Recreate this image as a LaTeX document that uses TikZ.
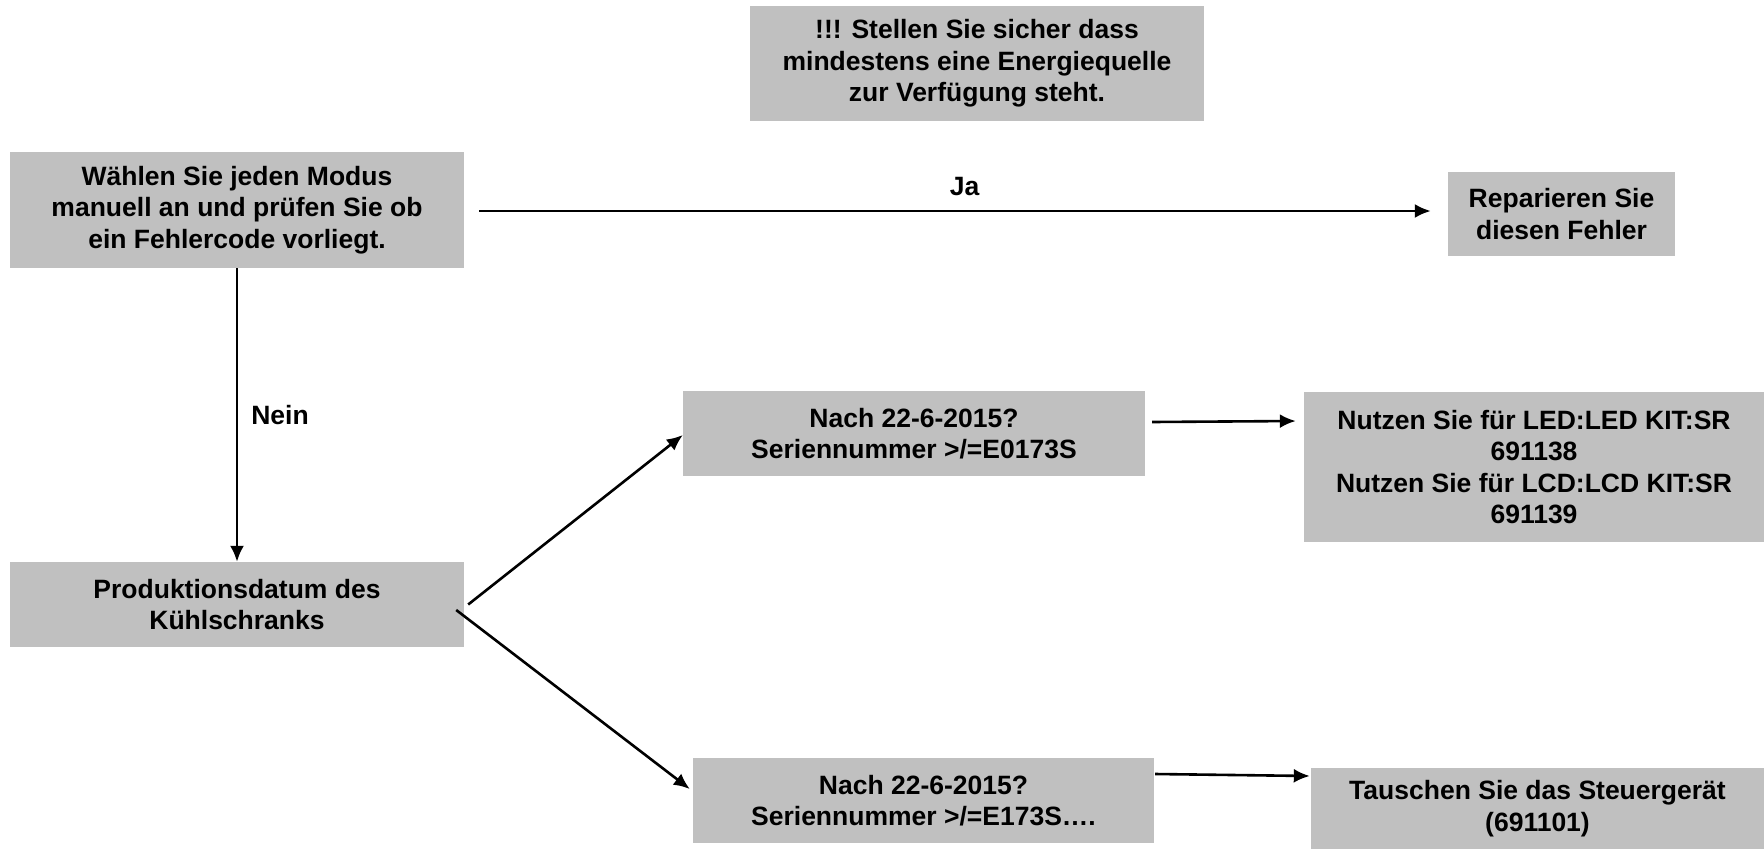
\documentclass[tikz,border=0pt]{standalone}
\usepackage{fontspec}
\setmainfont{Liberation Sans}
\usetikzlibrary{calc, arrows.meta, positioning}
\definecolor{boxgray}{RGB}{192,192,192}

\begin{document}
\begin{tikzpicture}
    [
        x=1pt, y=-1pt, auto, >={Latex[length=16pt,width=14pt]},
        box/.style={fill=boxgray, align=center, inner sep=0pt, font=\bfseries\fontsize{26.5}{31.5}\selectfont},
        lbl/.style={inner sep=0pt, font=\bfseries\fontsize{26.5}{31.5}\selectfont}
    ]
    \tikzstyle{line} = [draw, ->, line width=2.6pt]

    \useasboundingbox (0,0) rectangle (1764,849);

    % Hinweis
    \node[box, minimum width=454pt, minimum height=115pt] (warn) at (977,63.5)
        {!!! Stellen Sie sicher dass\\mindestens eine Energiequelle\\zur Verfügung steht.};

    % Fehlercode
    \node[box, minimum width=454pt, minimum height=116pt] (check) at (237,210)
        {Wählen Sie jeden Modus\\manuell an und prüfen Sie ob\\ein Fehlercode vorliegt.};
    \node[box, minimum width=227pt, minimum height=84pt] (repair) at (1561.5,214)
        {Reparieren Sie\\diesen Fehler};

    \path[line] ($(check.east)+(15,1)$) -- ($(repair.west)+(-17,-3)$)
        node[lbl, pos=0.51, above=14pt] {Ja};

    % Produktionsdatum
    \node[box, minimum width=454pt, minimum height=85pt] (proddate) at (237,604.5)
        {Produktionsdatum des\\Kühlschranks};

    \path[line] (check.south) -- (proddate.north)
        node[lbl, midway, right=13pt] {Nein};

    % Seriennummer
    \node[box, minimum width=462pt, minimum height=85pt] (after1) at (914,433.5)
        {Nach 22-6-2015?\\Seriennummer >/=E0173S};
    \node[box, minimum width=460pt, minimum height=150pt] (ledlcd) at (1534,467)
        {Nutzen Sie für LED:LED KIT:SR\\691138\\Nutzen Sie für LCD:LCD KIT:SR\\691139};
    \node[box, minimum width=461pt, minimum height=85pt] (after2) at (923.5,800.5)
        {Nach 22-6-2015?\\Seriennummer >/=E173S….};
    \node[box, minimum width=453pt, minimum height=81pt] (swap) at (1537.5,808.5)
        {Tauschen Sie das Steuergerät\\(691101)};

    \path[line] ($(proddate.east)+(4,0)$) -- ($(after1.west)+(0,1.5)$);
    \path[line] ($(proddate.east)+(-8,5.5)$) -- ($(after2.west)+(-3,-11.5)$);
    \path[line] ($(after1.east)+(7,-11.5)$) -- ($(ledlcd.west)+(-8,-46)$);
    \path[line] ($(after2.east)+(1,-26.5)$) -- ($(swap.west)+(-1,-32.5)$);

\end{tikzpicture}
\end{document}
